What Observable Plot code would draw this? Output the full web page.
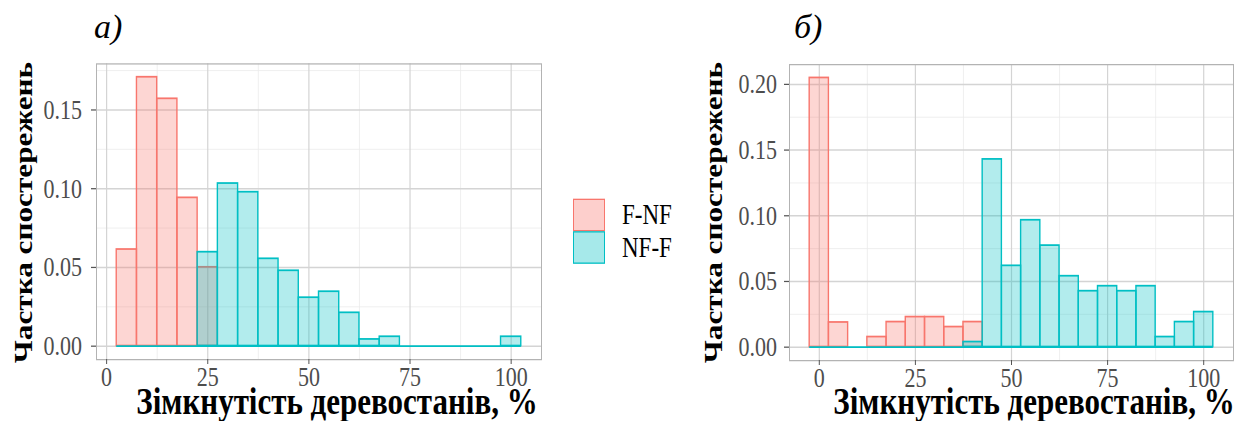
<!DOCTYPE html>
<html><head><meta charset="utf-8">
<script src="https://cdn.jsdelivr.net/npm/d3@7"></script>
<script src="https://cdn.jsdelivr.net/npm/@observablehq/plot@0.6"></script>
<style>
body{margin:0;background:#fff;}
#wrap{position:relative;width:1235px;height:421px;overflow:hidden;font-family:"Liberation Serif","Times New Roman",serif;color:#000;}
#fig{position:absolute;left:0;top:0;width:1235px;transform-origin:0 0;}
.abs{position:absolute;white-space:nowrap;line-height:1;}
.tag{font-style:italic;font-size:34px;}
.xt{font-weight:bold;font-size:31px;line-height:0.7;transform:translateX(-50%);}
.yt{font-weight:bold;font-size:25px;transform:translate(-50%,-50%) rotate(-90deg);}
.key{position:absolute;box-sizing:border-box;width:32px;border:1.5px solid;}
.lt{font-size:23px;transform:translateY(-50%);}
svg{position:absolute;top:0;overflow:visible;}
</style></head><body>
<div id="wrap">
  <div id="fig"></div>
</div>
<script>
const S = 1.25; // vertical stretch of the reference figure
const binWidth = 5;
const groups = ["F-NF", "NF-F"];
const colors = ["#F8766D", "#00BFC4"];
const panelTags = ["а)", "б)"];
const xLabel = "Зімкнутість деревостанів, %";
const yLabel = "Частка спостережень";

const binsA = [5,10,15,20,25,30,35,40,45,50,55,60,65,70,75,80,85,90,95,100];
const fnfA  = [0.0613,0.1707,0.1570,0.0941,0.0500,0,0,0,0,0,0,0,0,0,0,0,0,0,0,0];
const nffA  = [0,0,0,0,0.0596,0.1032,0.0977,0.0554,0.0478,0.0307,0.0345,0.0211,0.0042,0.0059,0,0,0,0,0,0.0059];

const binsB = [0,5,10,15,20,25,30,35,40,45,50,55,60,65,70,75,80,85,90,95,100];
const fnfB  = [0.2048,0.0187,0,0.0076,0.0190,0.0228,0.0228,0.0152,0.0190,0,0,0,0,0,0,0,0,0,0,0,0];
const nffB  = [0,0,0,0,0,0,0,0,0.0038,0.1428,0.0618,0.0965,0.0772,0.0539,0.0425,0.0463,0.0425,0.0463,0.0076,0.0190,0.0266];

const xTicks = [0,25,50,75,100];
const xMinor = [12.5,37.5,62.5,87.5];
const yTicksA = [0,0.05,0.10,0.15];
const yMinorA = [0.025,0.075,0.125,0.175];
const yTicksB = [0,0.05,0.10,0.15,0.20];
const yMinorB = [0.025,0.075,0.125,0.175];

function expand(lo, hi){ const e = (hi - lo) * 0.05; return [lo - e, hi + e]; }

function panel(bins, fnf, nff, yTicks, yMinor, frame, svgLeft, svgWidth, yPad){
  const rows = [];
  bins.forEach((b, i) => {
    rows.push({g: groups[0], x: b, y: fnf[i]});
    rows.push({g: groups[1], x: b, y: nff[i]});
  });
  const lo = d3.min(bins) - binWidth/2, hi = d3.max(bins) + binWidth/2;
  const ymax = d3.max(rows, d => d.y);
  const H = 421 / S;
  const bar = (g, c) => Plot.rectY(rows.filter(d => d.g === g && d.y > 0), {
    x1: d => d.x - binWidth/2, x2: d => d.x + binWidth/2, y1: 0, y2: "y",
    fill: c, fillOpacity: 0.3, stroke: c, strokeWidth: 1.4, inset: 0
  });
  const svg = Plot.plot({
    width: svgWidth, height: H,
    marginLeft: frame.l - svgLeft, marginRight: svgLeft + svgWidth - frame.r,
    marginTop: frame.t / S, marginBottom: (421 - frame.b) / S,
    style: {fontFamily: "'Liberation Serif', 'Times New Roman', serif", background: "transparent", overflow: "visible"},
    x: {domain: expand(lo, hi)},
    y: {domain: expand(0, ymax)},
    marks: [
      Plot.ruleX(xMinor, {stroke: "#ebebeb", strokeWidth: 0.7}),
      Plot.ruleY(yMinor, {stroke: "#ebebeb", strokeWidth: 0.7}),
      Plot.ruleX(xTicks, {stroke: "#d4d4d4", strokeWidth: 1.2}),
      Plot.ruleY(yTicks, {stroke: "#d4d4d4", strokeWidth: 1.2}),
      bar(groups[0], colors[0]),
      bar(groups[1], colors[1]),
      Plot.ruleY([0], {x1: lo, x2: hi, stroke: colors[1], strokeWidth: 1.4}),
      Plot.frame({stroke: "#b3b3b3", strokeWidth: 1}),
      Plot.axisX({ticks: xTicks, tickSize: 4, tickPadding: 1.5, fontSize: 22, fill: "#4d4d4d", stroke: "#555", label: null}),
      Plot.axisY({ticks: yTicks, tickSize: 5, tickPadding: yPad, fontSize: 22, fill: "#4d4d4d", stroke: "#555", label: null, tickFormat: d3.format(".2f")})
    ]
  });
  svg.style.left = svgLeft + "px";
  return svg;
}

const fig = document.getElementById("fig");
fig.style.height = (421 / S) + "px";
fig.style.transform = `scaleY(${S})`;
fig.appendChild(panel(binsA, fnfA, nffA, yTicksA, yMinorA, {l: 96, r: 541, t: 63.3, b: 359}, 0, 560, 9.5));
fig.appendChild(panel(binsB, fnfB, nffB, yTicksB, yMinorB, {l: 789, r: 1233, t: 64, b: 360}, 660, 575, 7.5));

function addText(parent, cls, text, left, top){
  const d = document.createElement("div");
  d.className = "abs " + cls;
  d.textContent = text;
  d.style.left = left + "px";
  d.style.top = top + "px";
  parent.appendChild(d);
  return d;
}
// axis titles (inside stretched figure; coordinates in unstretched units)
addText(fig, "xt", xLabel, 337, 310);
addText(fig, "xt", xLabel, 1034, 310);
addText(fig, "yt", yLabel, 23, 212 / S);
addText(fig, "yt", yLabel, 713, 212 / S);
// legend
groups.forEach((g, i) => {
  const k = document.createElement("div");
  k.className = "key";
  k.style.left = "573px";
  k.style.top = ((199 + i * 32.5) / S) + "px";
  k.style.height = (32 / S) + "px";
  k.style.borderColor = colors[i];
  const c = d3.color(colors[i]); c.opacity = 0.35;
  k.style.background = c.formatRgb();
  fig.appendChild(k);
  addText(fig, "lt", g, 622, (215 + i * 33) / S);
});
// panel tags (document text, not stretched)
const wrap = document.getElementById("wrap");
addText(wrap, "tag", panelTags[0], 94, 10);
addText(wrap, "tag", panelTags[1], 794, 10);
</script>
</body></html>
